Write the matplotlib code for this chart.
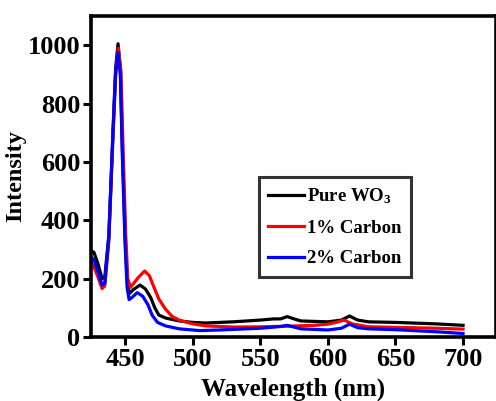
import numpy as np
import matplotlib as mpl
mpl.use('Agg')
import matplotlib.pyplot as plt

plt.rcParams['font.family'] = ['Liberation Serif', 'DejaVu Serif']
plt.rcParams['font.weight'] = 'bold'
plt.rcParams['mathtext.fontset'] = 'custom'
plt.rcParams['mathtext.rm'] = 'Liberation Serif:bold'
plt.rcParams['mathtext.it'] = 'Liberation Serif:bold:italic'
plt.rcParams['mathtext.bf'] = 'Liberation Serif:bold'

# PL spectra
pure_x = [425, 427, 430, 433, 435, 438, 441, 443, 444.8, 446.5, 448, 450, 451.5, 453,
          456, 461, 465, 469, 472, 475, 480, 490, 500, 510, 530, 550, 560, 565, 570,
          575, 580, 600, 610, 616, 622, 630, 650, 680, 700]
pure_y = [295, 290, 250, 200, 205, 350, 700, 920, 1005, 920, 650, 350, 200, 148,
          162, 178, 165, 135, 100, 75, 65, 55, 50, 48, 52, 58, 62, 62, 70,
          62, 55, 52, 58, 72, 58, 52, 50, 45, 40]

c1_x = [425, 427, 430, 433, 435, 438, 441, 443, 445, 447, 448.5, 450.5, 452, 454,
        460, 464.5, 468, 471, 475, 480, 485, 490, 500, 510, 530, 550, 570, 590, 600,
        606, 612, 618, 630, 650, 680, 700]
c1_y = [255, 240, 205, 166, 175, 330, 680, 900, 990, 910, 650, 350, 200, 170,
        205, 226, 210, 175, 130, 95, 70, 58, 45, 38, 34, 35, 37, 40, 44,
        50, 58, 45, 35, 33, 30, 27]

c2_x = [425, 427, 430, 433, 435, 438, 441, 443, 444.8, 446.5, 448, 450, 451.5, 453,
        455, 459, 463, 467, 470, 474, 480, 490, 505, 520, 550, 560, 565, 570, 575,
        580, 600, 610, 616, 622, 630, 650, 680, 700]
c2_y = [272, 265, 225, 178, 185, 340, 690, 900, 975, 900, 620, 320, 170, 128,
        135, 152, 140, 110, 75, 50, 38, 28, 22, 24, 30, 34, 36, 40, 34,
        28, 24, 30, 44, 32, 28, 25, 18, 12]

series = [
    (pure_x, pure_y, 'black', r'Pure WO$_3$'),
    (c1_x, c1_y, '#ff0000', '1% Carbon'),
    (c2_x, c2_y, '#0000ff', '2% Carbon'),
]

fig = plt.figure(figsize=(4.96, 4.01), dpi=100)
ax = fig.add_axes([0.184, 0.1596, 0.815, 0.8004])

for x, y, color, label in series:
    ax.plot(x, y, color=color, lw=2.3, label=label, solid_joinstyle='round')

ax.set_xlim(425, 724)
ax.set_ylim(0, 1100)
ax.set_xticks([450, 500, 550, 600, 650, 700])
ax.set_yticks([0, 200, 400, 600, 800, 1000])

for s in ax.spines.values():
    s.set_linewidth(2.6)
ax.tick_params(direction='out', length=6, width=2.2, labelsize=19, pad=2)
for lab in ax.get_xticklabels() + ax.get_yticklabels():
    lab.set_fontweight('bold')

ax.set_xlabel('Wavelength (nm)', fontsize=18, fontweight='bold', labelpad=5)
ax.set_ylabel('Intensity', fontsize=17.5, fontweight='bold', labelpad=1)

leg = ax.legend(loc='upper left', bbox_to_anchor=(0.415, 0.498), borderaxespad=0,
                fancybox=False, edgecolor='black', handlelength=1.9,
                handletextpad=0.15, labelspacing=0.72, borderpad=0.5,
                prop={'weight': 'bold', 'size': 13.5})
leg.get_frame().set_linewidth(2.2)
for line in leg.get_lines():
    line.set_linewidth(2.3)

fig.savefig('out.png', dpi=100)
